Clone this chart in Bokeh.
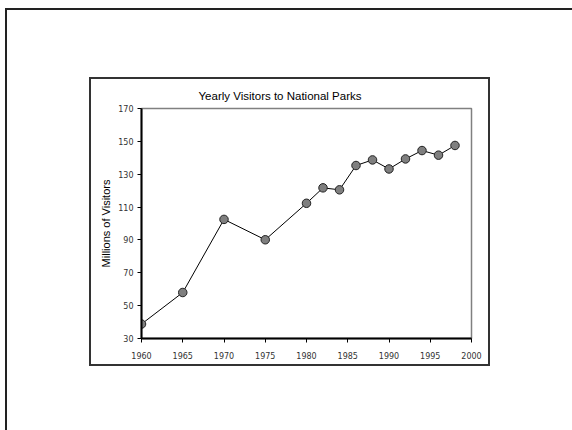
from bokeh.plotting import figure
from bokeh.layouts import column
from bokeh.models import FixedTicker, Range1d
from bokeh.embed import file_html
from bokeh.resources import INLINE

# data
years = [1960, 1965, 1970, 1975, 1980, 1982, 1984, 1986, 1988, 1990, 1992, 1994, 1996, 1998]
visitors = [38.8, 58.0, 102.5, 90.1, 112.3, 121.7, 120.5, 135.3, 138.7, 133.2, 139.3, 144.4, 141.6, 147.5]
x_ticks = [1960, 1965, 1970, 1975, 1980, 1985, 1990, 1995, 2000]
y_ticks = [30, 50, 70, 90, 110, 130, 150, 170]
chart_title = "Yearly Visitors to National Parks"
y_label = "Millions of Visitors"

FONT = "Liberation Sans"
TICK_FONT = "DejaVu Sans"

p = figure(width=401, height=289, output_backend="svg", toolbar_location=None,
           x_range=Range1d(1960, 2000), y_range=Range1d(30, 170),
           title=chart_title,
           min_border_left=50, min_border_right=21,
           min_border_top=29, min_border_bottom=30,
           styles={"border": "2px solid #333333"})
p.margin = (67, 0, 0, 82)

p.title.text_font = FONT
p.title.text_font_size = "11.5px"
p.title.text_font_style = "normal"
p.title.text_color = "black"
p.title.align = "left"
p.title.offset = 57
p.title.standoff = 13

p.background_fill_color = "white"
p.border_fill_color = "white"
p.outline_line_color = "#808080"
p.outline_line_width = 1.5
p.grid.visible = False

p.xaxis.ticker = FixedTicker(ticks=x_ticks)
p.yaxis.ticker = FixedTicker(ticks=y_ticks)
for ax in (p.xaxis, p.yaxis):
    ax.axis_line_color = "black"
    ax.axis_line_width = 2
    ax.major_tick_line_color = "black"
    ax.major_tick_line_width = 1
    ax.major_tick_in = 0
    ax.major_tick_out = 4
    ax.minor_tick_line_color = None
    ax.major_label_text_font = TICK_FONT
    ax.major_label_text_font_size = "8px"
    ax.major_label_text_color = "#333333"
p.xaxis.major_label_standoff = 9
p.yaxis.major_label_standoff = 4

p.yaxis.axis_label = y_label
p.yaxis.axis_label_text_font = FONT
p.yaxis.axis_label_text_font_size = "11px"
p.yaxis.axis_label_text_font_style = "normal"
p.yaxis.axis_label_text_color = "black"
p.yaxis.axis_label_standoff = 3

p.line(years, visitors, line_color="black", line_width=1)
p.scatter(years, visitors, size=8.5, fill_color="#7f7f7f", line_color="#222222", line_width=1)

page = column(p, width=567, height=422, margin=(8, 0, 0, 5),
              styles={"border-left": "2px solid #222222",
                      "border-top": "2px solid #222222",
                      "background-color": "white"})

open("out.html", "w").write(file_html(page, INLINE))
